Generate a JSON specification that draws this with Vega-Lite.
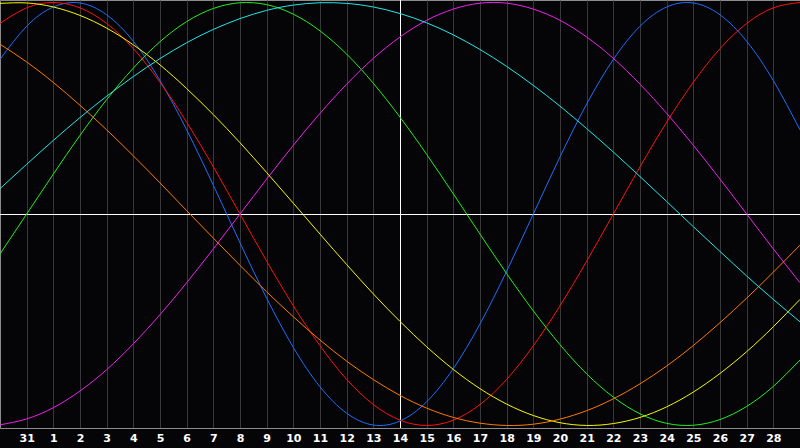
{
"$schema": "https://vega.github.io/schema/vega-lite/v6.json",
"width": 800, "height": 428,
"autosize": {"type": "none"},
"padding": {"left": 0, "top": 0, "right": 0, "bottom": 20},
"background": "#050507",
"config": {
 "view": {"stroke": "#8c8c8c", "strokeWidth": 1, "fill": "#050507"},
 "axisX": {"title": null, "grid": true, "gridColor": "#383838", "gridWidth": 1, "ticks": false,
           "domainColor": "#8c8c8c", "domainWidth": 1,
           "labelColor": "#ffffff", "labelFont": "DejaVu Sans", "labelFontWeight": "bold", "labelFontSize": 11,
           "labelPadding": 4, "labelOverlap": false, "labelFlush": false, "labelBound": false}
},
"layer": [
{"data": {"values": [{"t": 15}]},
 "mark": {"type": "rule", "color": "#ffffff", "strokeWidth": 1, "xOffset": 0.5},
 "encoding": {"x": {"field": "t", "type": "quantitative", "scale": {"domain": [0, 30], "nice": false, "zero": false},
   "axis": {"values": [1,2,3,4,5,6,7,8,9,10,11,12,13,14,15,16,17,18,19,20,21,22,23,24,25,26,27,28,29],
            "labelExpr": "datum.value == 1 ? '31' : '' + (datum.value - 1)", "labelOverlap": false}}}},
{"data": {"values": [{"v": 0}]},
 "mark": {"type": "rule", "color": "#ffffff", "strokeWidth": 1, "yOffset": 0.5},
 "encoding": {"y": {"field": "v", "type": "quantitative", "scale": {"domain": [-1.012, 1.012], "nice": false, "zero": false}, "axis": null}}},
{"data": {"values": [
{"t":0,"s":"Physical","v":0.731},{"t":1,"s":"Physical","v":0.888},{"t":2,"s":"Physical","v":0.979},{"t":3,"s":"Physical","v":0.998},{"t":4,"s":"Physical","v":0.942},{"t":5,"s":"Physical","v":0.817},{"t":6,"s":"Physical","v":0.631},{"t":7,"s":"Physical","v":0.398},{"t":8,"s":"Physical","v":0.136},{"t":9,"s":"Physical","v":-0.136},{"t":10,"s":"Physical","v":-0.398},{"t":11,"s":"Physical","v":-0.631},{"t":12,"s":"Physical","v":-0.817},{"t":13,"s":"Physical","v":-0.942},{"t":14,"s":"Physical","v":-0.998},{"t":15,"s":"Physical","v":-0.979},{"t":16,"s":"Physical","v":-0.888},{"t":17,"s":"Physical","v":-0.731},{"t":18,"s":"Physical","v":-0.520},{"t":19,"s":"Physical","v":-0.270},{"t":20,"s":"Physical","v":0},{"t":21,"s":"Physical","v":0.270},{"t":22,"s":"Physical","v":0.520},{"t":23,"s":"Physical","v":0.731},{"t":24,"s":"Physical","v":0.888},{"t":25,"s":"Physical","v":0.979},{"t":26,"s":"Physical","v":0.998},{"t":27,"s":"Physical","v":0.942},{"t":28,"s":"Physical","v":0.817},{"t":29,"s":"Physical","v":0.631},{"t":30,"s":"Physical","v":0.398},
{"t":0,"s":"Emotional","v":0.901},{"t":1,"s":"Emotional","v":0.975},{"t":2,"s":"Emotional","v":1},{"t":3,"s":"Emotional","v":0.975},{"t":4,"s":"Emotional","v":0.901},{"t":5,"s":"Emotional","v":0.782},{"t":6,"s":"Emotional","v":0.623},{"t":7,"s":"Emotional","v":0.434},{"t":8,"s":"Emotional","v":0.223},{"t":9,"s":"Emotional","v":0},{"t":10,"s":"Emotional","v":-0.223},{"t":11,"s":"Emotional","v":-0.434},{"t":12,"s":"Emotional","v":-0.623},{"t":13,"s":"Emotional","v":-0.782},{"t":14,"s":"Emotional","v":-0.901},{"t":15,"s":"Emotional","v":-0.975},{"t":16,"s":"Emotional","v":-1},{"t":17,"s":"Emotional","v":-0.975},{"t":18,"s":"Emotional","v":-0.901},{"t":19,"s":"Emotional","v":-0.782},{"t":20,"s":"Emotional","v":-0.623},{"t":21,"s":"Emotional","v":-0.434},{"t":22,"s":"Emotional","v":-0.223},{"t":23,"s":"Emotional","v":0},{"t":24,"s":"Emotional","v":0.223},{"t":25,"s":"Emotional","v":0.434},{"t":26,"s":"Emotional","v":0.623},{"t":27,"s":"Emotional","v":0.782},{"t":28,"s":"Emotional","v":0.901},{"t":29,"s":"Emotional","v":0.975},{"t":30,"s":"Emotional","v":1},
{"t":0,"s":"Intellectual","v":-0.189},{"t":1,"s":"Intellectual","v":0},{"t":2,"s":"Intellectual","v":0.189},{"t":3,"s":"Intellectual","v":0.372},{"t":4,"s":"Intellectual","v":0.541},{"t":5,"s":"Intellectual","v":0.690},{"t":6,"s":"Intellectual","v":0.815},{"t":7,"s":"Intellectual","v":0.910},{"t":8,"s":"Intellectual","v":0.972},{"t":9,"s":"Intellectual","v":0.999},{"t":10,"s":"Intellectual","v":0.990},{"t":11,"s":"Intellectual","v":0.945},{"t":12,"s":"Intellectual","v":0.866},{"t":13,"s":"Intellectual","v":0.756},{"t":14,"s":"Intellectual","v":0.618},{"t":15,"s":"Intellectual","v":0.458},{"t":16,"s":"Intellectual","v":0.282},{"t":17,"s":"Intellectual","v":0.095},{"t":18,"s":"Intellectual","v":-0.095},{"t":19,"s":"Intellectual","v":-0.282},{"t":20,"s":"Intellectual","v":-0.458},{"t":21,"s":"Intellectual","v":-0.618},{"t":22,"s":"Intellectual","v":-0.756},{"t":23,"s":"Intellectual","v":-0.866},{"t":24,"s":"Intellectual","v":-0.945},{"t":25,"s":"Intellectual","v":-0.990},{"t":26,"s":"Intellectual","v":-0.999},{"t":27,"s":"Intellectual","v":-0.972},{"t":28,"s":"Intellectual","v":-0.910},{"t":29,"s":"Intellectual","v":-0.815},{"t":30,"s":"Intellectual","v":-0.690},
{"t":0,"s":"Intuitive","v":-0.997},{"t":1,"s":"Intuitive","v":-0.969},{"t":2,"s":"Intuitive","v":-0.916},{"t":3,"s":"Intuitive","v":-0.837},{"t":4,"s":"Intuitive","v":-0.736},{"t":5,"s":"Intuitive","v":-0.614},{"t":6,"s":"Intuitive","v":-0.476},{"t":7,"s":"Intuitive","v":-0.325},{"t":8,"s":"Intuitive","v":-0.165},{"t":9,"s":"Intuitive","v":0},{"t":10,"s":"Intuitive","v":0.165},{"t":11,"s":"Intuitive","v":0.325},{"t":12,"s":"Intuitive","v":0.476},{"t":13,"s":"Intuitive","v":0.614},{"t":14,"s":"Intuitive","v":0.736},{"t":15,"s":"Intuitive","v":0.837},{"t":16,"s":"Intuitive","v":0.916},{"t":17,"s":"Intuitive","v":0.969},{"t":18,"s":"Intuitive","v":0.997},{"t":19,"s":"Intuitive","v":0.997},{"t":20,"s":"Intuitive","v":0.969},{"t":21,"s":"Intuitive","v":0.916},{"t":22,"s":"Intuitive","v":0.837},{"t":23,"s":"Intuitive","v":0.736},{"t":24,"s":"Intuitive","v":0.614},{"t":25,"s":"Intuitive","v":0.476},{"t":26,"s":"Intuitive","v":0.325},{"t":27,"s":"Intuitive","v":0.165},{"t":28,"s":"Intuitive","v":0},{"t":29,"s":"Intuitive","v":-0.165},{"t":30,"s":"Intuitive","v":-0.325},
{"t":0,"s":"Aesthetic","v":0.996},{"t":1,"s":"Aesthetic","v":0.998},{"t":2,"s":"Aesthetic","v":0.979},{"t":3,"s":"Aesthetic","v":0.939},{"t":4,"s":"Aesthetic","v":0.879},{"t":5,"s":"Aesthetic","v":0.800},{"t":6,"s":"Aesthetic","v":0.705},{"t":7,"s":"Aesthetic","v":0.593},{"t":8,"s":"Aesthetic","v":0.470},{"t":9,"s":"Aesthetic","v":0.337},{"t":10,"s":"Aesthetic","v":0.196},{"t":11,"s":"Aesthetic","v":0.051},{"t":12,"s":"Aesthetic","v":-0.095},{"t":13,"s":"Aesthetic","v":-0.239},{"t":14,"s":"Aesthetic","v":-0.378},{"t":15,"s":"Aesthetic","v":-0.508},{"t":16,"s":"Aesthetic","v":-0.628},{"t":17,"s":"Aesthetic","v":-0.735},{"t":18,"s":"Aesthetic","v":-0.826},{"t":19,"s":"Aesthetic","v":-0.899},{"t":20,"s":"Aesthetic","v":-0.953},{"t":21,"s":"Aesthetic","v":-0.987},{"t":22,"s":"Aesthetic","v":-1.0},{"t":23,"s":"Aesthetic","v":-0.991},{"t":24,"s":"Aesthetic","v":-0.962},{"t":25,"s":"Aesthetic","v":-0.912},{"t":26,"s":"Aesthetic","v":-0.842},{"t":27,"s":"Aesthetic","v":-0.754},{"t":28,"s":"Aesthetic","v":-0.651},{"t":29,"s":"Aesthetic","v":-0.533},{"t":30,"s":"Aesthetic","v":-0.404},
{"t":0,"s":"Awareness","v":0.803},{"t":1,"s":"Awareness","v":0.719},{"t":2,"s":"Awareness","v":0.622},{"t":3,"s":"Awareness","v":0.514},{"t":4,"s":"Awareness","v":0.398},{"t":5,"s":"Awareness","v":0.275},{"t":6,"s":"Awareness","v":0.147},{"t":7,"s":"Awareness","v":0.016},{"t":8,"s":"Awareness","v":-0.114},{"t":9,"s":"Awareness","v":-0.243},{"t":10,"s":"Awareness","v":-0.368},{"t":11,"s":"Awareness","v":-0.486},{"t":12,"s":"Awareness","v":-0.596},{"t":13,"s":"Awareness","v":-0.696},{"t":14,"s":"Awareness","v":-0.783},{"t":15,"s":"Awareness","v":-0.858},{"t":16,"s":"Awareness","v":-0.918},{"t":17,"s":"Awareness","v":-0.962},{"t":18,"s":"Awareness","v":-0.989},{"t":19,"s":"Awareness","v":-1.0},{"t":20,"s":"Awareness","v":-0.994},{"t":21,"s":"Awareness","v":-0.970},{"t":22,"s":"Awareness","v":-0.930},{"t":23,"s":"Awareness","v":-0.874},{"t":24,"s":"Awareness","v":-0.803},{"t":25,"s":"Awareness","v":-0.719},{"t":26,"s":"Awareness","v":-0.622},{"t":27,"s":"Awareness","v":-0.514},{"t":28,"s":"Awareness","v":-0.398},{"t":29,"s":"Awareness","v":-0.275},{"t":30,"s":"Awareness","v":-0.147},
{"t":0,"s":"Spiritual","v":0.120},{"t":1,"s":"Spiritual","v":0.235},{"t":2,"s":"Spiritual","v":0.348},{"t":3,"s":"Spiritual","v":0.456},{"t":4,"s":"Spiritual","v":0.557},{"t":5,"s":"Spiritual","v":0.650},{"t":6,"s":"Spiritual","v":0.735},{"t":7,"s":"Spiritual","v":0.810},{"t":8,"s":"Spiritual","v":0.873},{"t":9,"s":"Spiritual","v":0.924},{"t":10,"s":"Spiritual","v":0.963},{"t":11,"s":"Spiritual","v":0.988},{"t":12,"s":"Spiritual","v":0.999},{"t":13,"s":"Spiritual","v":0.996},{"t":14,"s":"Spiritual","v":0.979},{"t":15,"s":"Spiritual","v":0.948},{"t":16,"s":"Spiritual","v":0.904},{"t":17,"s":"Spiritual","v":0.847},{"t":18,"s":"Spiritual","v":0.778},{"t":19,"s":"Spiritual","v":0.698},{"t":20,"s":"Spiritual","v":0.608},{"t":21,"s":"Spiritual","v":0.510},{"t":22,"s":"Spiritual","v":0.404},{"t":23,"s":"Spiritual","v":0.293},{"t":24,"s":"Spiritual","v":0.177},{"t":25,"s":"Spiritual","v":0.059},{"t":26,"s":"Spiritual","v":-0.060},{"t":27,"s":"Spiritual","v":-0.177},{"t":28,"s":"Spiritual","v":-0.293},{"t":29,"s":"Spiritual","v":-0.404},{"t":30,"s":"Spiritual","v":-0.510}
]},
 "mark": {"type": "line", "interpolate": "natural", "strokeWidth": 1, "clip": true},
 "encoding": {
  "x": {"field": "t", "type": "quantitative",
        "scale": {"domain": [0, 30], "nice": false, "zero": false},
        "axis": {"values": [1,2,3,4,5,6,7,8,9,10,11,12,13,14,15,16,17,18,19,20,21,22,23,24,25,26,27,28,29],
                 "labelExpr": "datum.value == 1 ? '31' : '' + (datum.value - 1)", "labelOverlap": false}},
  "y": {"field": "v", "type": "quantitative",
        "scale": {"domain": [-1.012, 1.012], "nice": false, "zero": false}, "axis": null},
  "color": {"field": "s", "type": "nominal", "legend": null,
            "scale": {"domain": ["Spiritual","Awareness","Aesthetic","Intuitive","Intellectual","Emotional","Physical"],
                      "range": ["#20e8e8","#ff7a00","#f8f800","#f020f0","#20f020","#ff1010","#1e6eff"]}}
 }}
]
}
